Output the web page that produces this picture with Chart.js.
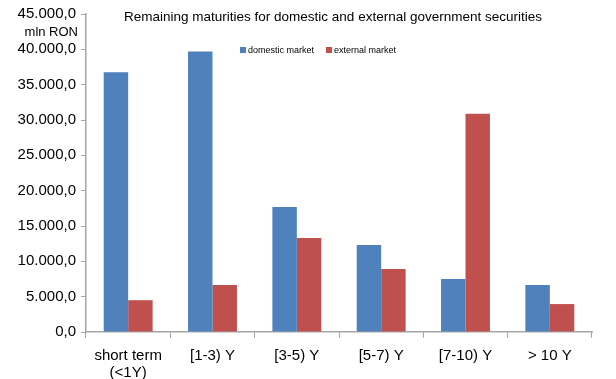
<!DOCTYPE html>
<html>
<head>
<meta charset="utf-8">
<script src="https://cdn.jsdelivr.net/npm/chart.js@4/dist/chart.umd.min.js"></script>
<style>
  html, body { margin: 0; padding: 0; background: #fff; }
  #wrap { position: relative; width: 616px; height: 379px; }
</style>
</head>
<body>
<div id="wrap"><canvas id="chart" width="616" height="379"></canvas></div>
<script>
'use strict';

// --- DATA ---
const categories = [['short term', '(<1Y)'], '[1-3) Y', '[3-5) Y', '[5-7) Y', '[7-10) Y', '> 10 Y'];
const domesticMarket = [36750, 39700, 17700, 12300, 7500, 6650];
const externalMarket = [4500, 6650, 13300, 8900, 30900, 3950];
const chartTitle = 'Remaining maturities for domestic and external government securities';
const unitLabel = 'mln RON';

// 45000 -> "45.000,0"
function formatRo(v) {
    const fixed = Math.abs(v).toFixed(1);
    const [intPart, dec] = fixed.split('.');
    const withDots = intPart.replace(/\B(?=(\d{3})+(?!\d))/g, '.');
    return (v < 0 ? '-' : '') + withDots + ',' + dec;
}

// titlu, legenda si unitatea sunt desenate in interiorul zonei graficului
const overlayText = {
    id: 'overlayText',
    afterDraw(chart) {
        const ctx = chart.ctx;
        ctx.save();
        ctx.fillStyle = '#000';
        ctx.textBaseline = 'middle';

        ctx.font = '13.5px "Liberation Sans", Arial, sans-serif';
        ctx.textAlign = 'center';
        ctx.fillText(chartTitle, 333, 17);

        ctx.font = '13px "Liberation Sans", Arial, sans-serif';
        ctx.textAlign = 'right';
        ctx.fillText(unitLabel, 78, 32);

        ctx.font = '9px "Liberation Sans", Arial, sans-serif';
        ctx.textAlign = 'left';
        let x = 240;
        chart.data.datasets.forEach(ds => {
            ctx.fillStyle = ds.backgroundColor;
            ctx.fillRect(x, 47, 6, 6);
            ctx.fillStyle = '#000';
            ctx.fillText(ds.label, x + 8, 50.5);
            x += 8 + ctx.measureText(ds.label).width + 12;
        });
        ctx.restore();
    }
};

new Chart(document.getElementById('chart').getContext('2d'), {
    type: 'bar',
    data: {
        labels: categories,
        datasets: [
            {
                label: 'domestic market',
                data: domesticMarket,
                backgroundColor: '#4F81BD'
            },
            {
                label: 'external market',
                data: externalMarket,
                backgroundColor: '#C0504D'
            }
        ]
    },
    options: {
        responsive: false,
        animation: false,
        layout: { padding: { top: 14, right: 24, bottom: 0, left: 0 } },
        plugins: {
            legend: { display: false },
            title: { display: false },
            tooltip: { enabled: false }
        },
        datasets: {
            bar: { categoryPercentage: 0.58, barPercentage: 1.0 }
        },
        scales: {
            x: {
                grid: {
                    offset: true,
                    drawOnChartArea: false,
                    tickLength: 6,
                    color: '#A6A6A6'
                },
                border: { color: '#A6A6A6', width: 1.5 },
                ticks: {
                    color: '#000',
                    padding: 9,
                    maxRotation: 0,
                    font: { family: '"Liberation Sans", Arial, sans-serif', size: 15, lineHeight: 1.15 }
                },
                afterFit(scale) { scale.height = 47; }
            },
            y: {
                min: 0,
                max: 45000,
                grid: {
                    drawOnChartArea: false,
                    tickLength: 5,
                    color: '#A6A6A6'
                },
                border: { color: '#A6A6A6', width: 1.5 },
                ticks: {
                    stepSize: 5000,
                    color: '#000',
                    padding: 5,
                    font: { family: '"Liberation Sans", Arial, sans-serif', size: 15 },
                    callback: v => formatRo(v)
                },
                afterFit(scale) { scale.width = 86; }
            }
        }
    },
    plugins: [overlayText]
});
</script>
</body>
</html>
